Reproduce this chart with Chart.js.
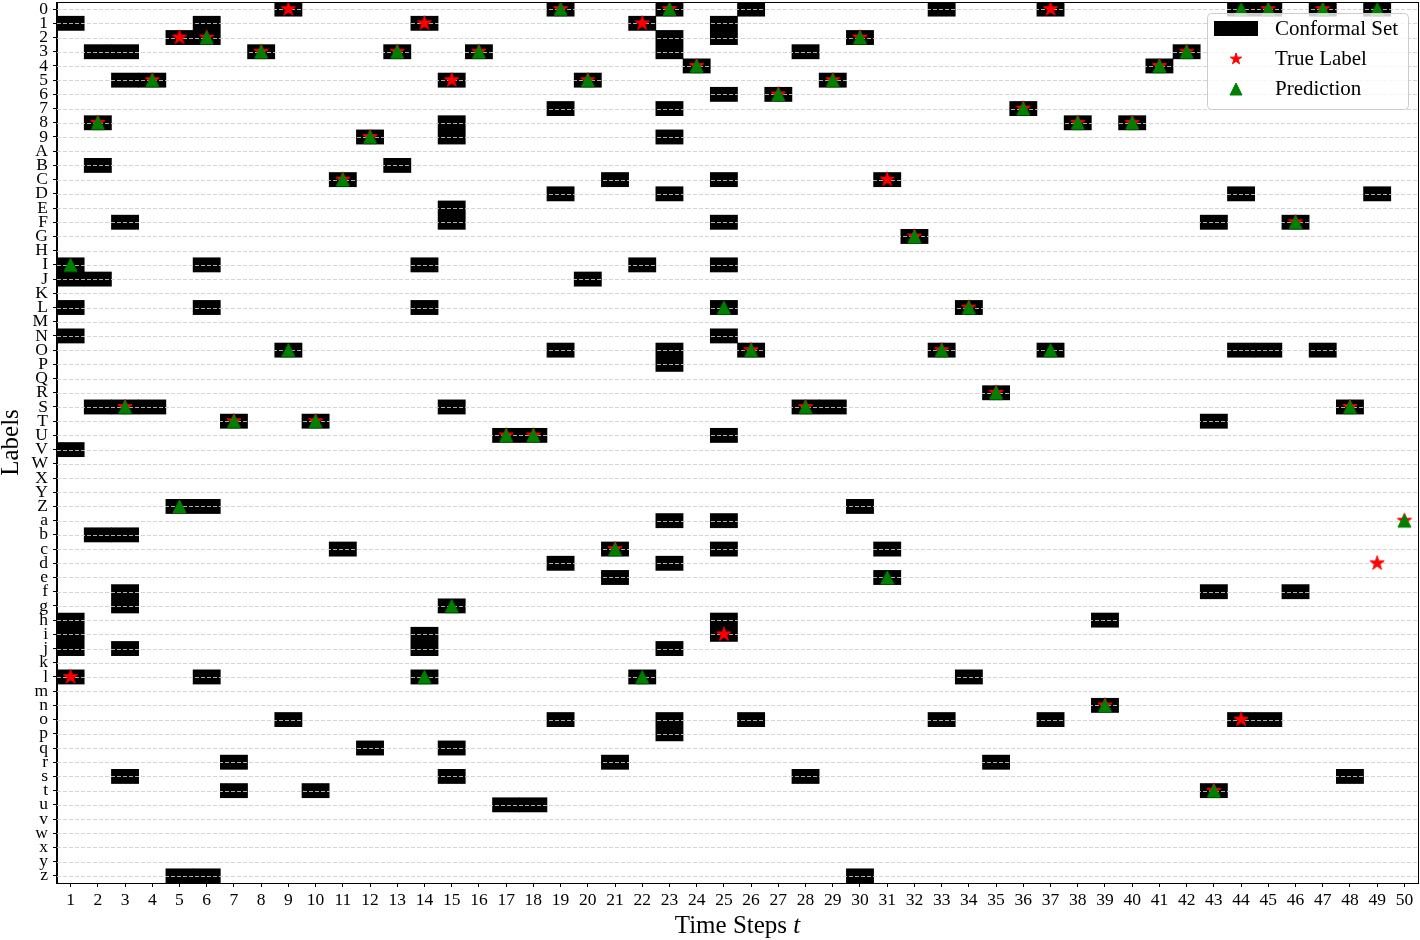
<!DOCTYPE html>
<html>
<head>
<meta charset="utf-8">
<script src="https://cdn.jsdelivr.net/npm/chart.js@4/dist/chart.umd.min.js"></script>
<style>
    html, body { margin: 0; padding: 0; background: #fff; }
    canvas { display: block; }
</style>
</head>
<body>
<canvas id="setChart" width="1420" height="940"></canvas>
<script>
    // Label alphabet, top to bottom
    const labels = '0123456789ABCDEFGHIJKLMNOPQRSTUVWXYZabcdefghijklmnopqrstuvwxyz'.split('');
    const timeSteps = [1, 2, 3, 4, 5, 6, 7, 8, 9, 10, 11, 12, 13, 14, 15, 16, 17, 18, 19, 20,
        21, 22, 23, 24, 25, 26, 27, 28, 29, 30, 31, 32, 33, 34, 35, 36, 37, 38, 39, 40,
        41, 42, 43, 44, 45, 46, 47, 48, 49, 50];

    // Conformal set at each time step (one string of labels per step)
    const conformalSets = [
        '1IJLNVhijl', '38BJSb', '35FSbfgjs', '5S', '2Zz', '12ILZlz', 'Trt', '3', '0Oo', 'Tt',
        'Cc', '9q', '3B', '1ILijl', '589EFSgqs', '3', 'Uu', 'Uu', '07DOdo', '5J',
        'Ccer', '1Il', '02379DOPadjop', '4', '126CFILNUachi', '0Oo', '6', '3Ss', '5S', '2Zz',
        'Cce', 'G', '0Oo', 'Ll', 'Rr', '7', '0Oo', '8', 'hn', '8',
        '4', '3', 'FTft', '0DOo', '0Oo', 'Ff', '0O', 'Ss', '0D', ''
    ];
    const trueLabels = ['l', '8', 'S', '5', '2', '2', 'T', '3', '0', 'T',
        'C', '9', '3', '1', '5', '3', 'U', 'U', '0', '5',
        'c', '1', '0', '4', 'i', 'O', '6', 'S', '5', '2',
        'C', 'G', 'O', 'L', 'R', '7', '0', '8', 'n', '8',
        '4', '3', 't', 'o', '0', 'F', '0', 'S', 'd', 'a'];
    const predictions = ['I', '8', 'S', '5', 'Z', '2', 'T', '3', 'O', 'T',
        'C', '9', '3', 'l', 'g', '3', 'U', 'U', '0', '5',
        'c', 'l', '0', '4', 'L', 'O', '6', 'S', '5', '2',
        'e', 'G', 'O', 'L', 'R', '7', 'O', '8', 'n', '8',
        '4', '3', 't', '0', '0', 'F', '0', 'S', '0', 'a'];

    const FONT = '"Liberation Serif", "DejaVu Serif", serif';
    const GRID = 'rgba(205, 205, 205, 0.85)';

    // floating bars: one per run of neighbouring labels in a set
    const setBars = [];
    conformalSets.forEach((set, i) => {
        const idx = set.split('').map(c => labels.indexOf(c)).sort((a, b) => a - b);
        let k = 0;
        while (k < idx.length) {
            let end = k;
            while (end + 1 < idx.length && idx[end + 1] === idx[end] + 1) end++;
            setBars.push({ x: timeSteps[i], y: [idx[k] - 0.5, idx[end] + 0.5] });
            k = end + 1;
        }
    });
    const truePoints = trueLabels.map((c, i) => ({ x: timeSteps[i], y: labels.indexOf(c) }));
    const predPoints = predictions.map((c, i) => ({ x: timeSteps[i], y: labels.indexOf(c) }));

    function starPath(ctx, cx, cy, r) {
        const ri = r * 0.381966;
        ctx.beginPath();
        for (let k = 0; k < 10; k++) {
            const a = -Math.PI / 2 + k * Math.PI / 5;
            const rr = k % 2 ? ri : r;
            ctx.lineTo(cx + Math.cos(a) * rr, cy + Math.sin(a) * rr);
        }
        ctx.closePath();
    }
    function trianglePath(ctx, cx, cy, h) {
        ctx.beginPath();
        ctx.moveTo(cx, cy - h);
        ctx.lineTo(cx - h, cy + h);
        ctx.lineTo(cx + h, cy + h);
        ctx.closePath();
    }
    function drawStar(ctx, cx, cy, r) {
        starPath(ctx, cx, cy, r);
        ctx.fillStyle = '#ff0000';
        ctx.strokeStyle = '#ff0000';
        ctx.lineWidth = 1;
        ctx.fill();
        ctx.stroke();
    }
    function drawTriangle(ctx, cx, cy, h) {
        trianglePath(ctx, cx, cy, h);
        ctx.fillStyle = '#008000';
        ctx.strokeStyle = '#008000';
        ctx.lineWidth = 1;
        ctx.fill();
        ctx.stroke();
    }
    function markerCanvas(size, draw) {
        const c = document.createElement('canvas');
        c.width = size;
        c.height = size;
        draw(c.getContext('2d'), size / 2);
        return c;
    }
    const starImg = markerCanvas(18, (g, m) => drawStar(g, m, m, 7.5));
    const triImg = markerCanvas(17, (g, m) => drawTriangle(g, m, m, 6.5));

    const overlay = {
        id: 'overlay',
        // dashed row lines sit above the boxes but under the markers
        afterDatasetDraw(chart, args) {
            if (args.index !== 0) return;
            const { ctx, chartArea, scales: { y } } = chart;
            ctx.save();
            ctx.strokeStyle = GRID;
            ctx.lineWidth = 1;
            ctx.setLineDash([4, 2]);
            labels.forEach((_, i) => {
                const py = Math.round(y.getPixelForValue(i)) + 0.5;
                ctx.beginPath();
                ctx.moveTo(chartArea.left, py);
                ctx.lineTo(chartArea.right, py);
                ctx.stroke();
            });
            ctx.restore();
        },
        afterDraw(chart) {
            const { ctx, chartArea: ca, scales: { x } } = chart;
            ctx.save();
            // frame
            ctx.strokeStyle = '#000';
            ctx.lineWidth = 1;
            ctx.strokeRect(Math.round(ca.left) - 0.5, Math.round(ca.top) + 0.5,
                Math.round(ca.right - ca.left) + 1, Math.round(ca.bottom - ca.top));

            // x title with italic t
            ctx.fillStyle = '#000';
            ctx.textBaseline = 'alphabetic';
            ctx.font = '25px ' + FONT;
            const t1 = 'Time Steps ';
            const w1 = ctx.measureText(t1).width;
            ctx.font = 'italic 25px ' + FONT;
            const w2 = ctx.measureText('t').width;
            const sx = (ca.left + ca.right) / 2 - (w1 + w2) / 2;
            const by = x.bottom - 7;
            ctx.font = '25px ' + FONT;
            ctx.fillText(t1, sx, by);
            ctx.font = 'italic 25px ' + FONT;
            ctx.fillText('t', sx + w1, by);

            // legend
            const lx = ca.right - 211, ly = ca.top + 11, lw = 201, lh = 96;
            ctx.beginPath();
            ctx.roundRect(lx + 0.5, ly + 0.5, lw, lh, 4);
            ctx.fillStyle = 'rgba(255,255,255,0.8)';
            ctx.fill();
            ctx.strokeStyle = '#cccccc';
            ctx.stroke();
            ctx.fillStyle = '#000';
            ctx.fillRect(lx + 7, ly + 8, 44, 15);
            drawStar(ctx, lx + 29, ly + 46, 6);
            drawTriangle(ctx, lx + 29, ly + 76, 6);
            ctx.fillStyle = '#000';
            ctx.font = '21px ' + FONT;
            ctx.textAlign = 'left';
            ctx.fillText('Conformal Set', lx + 68, ly + 22);
            ctx.fillText('True Label', lx + 68, ly + 52);
            ctx.fillText('Prediction', lx + 68, ly + 82);
            ctx.restore();
        }
    };

    const tickFont = { family: FONT, size: 17.5 };

    new Chart(document.getElementById('setChart'), {
        type: 'bar',
        data: {
            datasets: [
                {
                    label: 'Conformal Set',
                    data: setBars,
                    backgroundColor: '#000000',
                    borderWidth: 0,
                    barPercentage: 1,
                    categoryPercentage: 1,
                    order: 2
                },
                {
                    type: 'scatter',
                    label: 'True Label',
                    data: truePoints,
                    pointStyle: starImg,
                    pointRadius: 8,
                    order: 1
                },
                {
                    type: 'scatter',
                    label: 'Prediction',
                    data: predPoints,
                    pointStyle: triImg,
                    pointRadius: 8,
                    order: 0
                }
            ]
        },
        options: {
            responsive: false,
            animation: false,
            events: [],
            layout: { autoPadding: false, padding: { top: 2, right: 2, left: 0, bottom: 0 } },
            plugins: {
                legend: { display: false },
                tooltip: { enabled: false }
            },
            scales: {
                x: {
                    type: 'linear',
                    min: 0.5,
                    max: 50.5,
                    offset: false,
                    afterBuildTicks: s => { s.ticks = timeSteps.map(v => ({ value: v })); },
                    afterFit: s => {
                        s.height = 57;
                        s.paddingLeft = 0;
                        s.paddingRight = 0;
                    },
                    grid: { display: true, drawOnChartArea: false, offset: false, tickLength: 4, tickColor: '#000' },
                    border: { display: true, color: '#000' },
                    ticks: { font: tickFont, color: '#000', padding: 3, autoSkip: false, maxRotation: 0, callback: v => String(v) }
                },
                y: {
                    type: 'linear',
                    reverse: true,
                    min: -0.5,
                    max: 61.5,
                    afterBuildTicks: s => { s.ticks = labels.map((_, i) => ({ value: i })); },
                    afterFit: s => {
                        s.width = 57;
                        s.paddingTop = 0;
                        s.paddingBottom = 0;
                    },
                    grid: { display: true, drawOnChartArea: false, tickLength: 4, tickColor: '#000' },
                    border: { display: true, color: '#000' },
                    ticks: { font: tickFont, color: '#000', padding: 5, autoSkip: false, callback: v => labels[v] },
                    title: {
                        display: true,
                        text: 'Labels',
                        color: '#000',
                        font: { family: FONT, size: 25, lineHeight: 0.9 },
                        padding: 0
                    }
                }
            }
        },
        plugins: [overlay]
    });
</script>
</body>
</html>
